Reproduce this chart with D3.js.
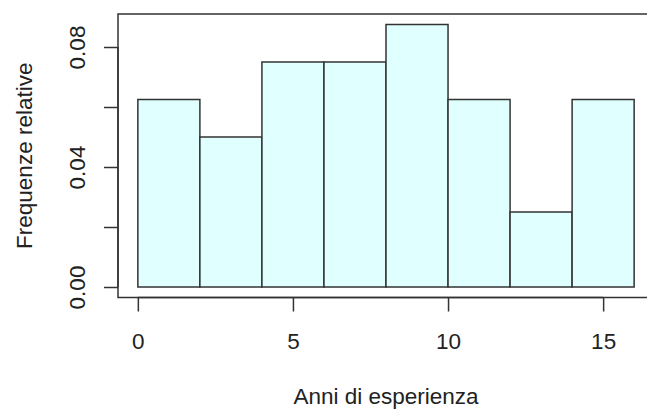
<!DOCTYPE html>
<html>
<head>
<meta charset="utf-8">
<script src="https://cdn.jsdelivr.net/npm/d3@7"></script>
<style>
  html, body { margin: 0; padding: 0; background: #fff; }
  svg { display: block; font-family: "Liberation Sans", Arial, Helvetica, sans-serif; }
</style>
</head>
<body>
<svg id="chart" width="647" height="410"></svg>
<script>
// Histogram bins (years of experience) and relative frequencies (density)
const binStarts = [0, 2, 4, 6, 8, 10, 12, 14];
const binWidth = 2;
const relFreq = [0.0625, 0.05, 0.075, 0.075, 0.0875, 0.0625, 0.025, 0.0625];

const xTicks = [0, 5, 10, 15];
const yTicks = [0, 0.02, 0.04, 0.06, 0.08];
const yTickLabels = ["0.00", "", "0.04", "", "0.08"];

const xTitle = "Anni di esperienza";
const yTitle = "Frequenze relative";

const svg = d3.select("#chart");
const fontSize = 22.5;
const ink = "#222";

// plot region extends 4% past the data range, like R's default axes
const xMin = 0, xMax = 16;
const yMax = d3.max(relFreq);
const xPad = (xMax - xMin) * 0.04;
const yPad = yMax * 0.04;

const plotLeft = 118, plotTop = 14, plotBottom = 297.5, plotRight = 654;

const x = d3.scaleLinear().domain([xMin - xPad, xMax + xPad]).range([plotLeft, plotRight]);
const y = d3.scaleLinear().domain([-yPad, yMax + yPad]).range([plotBottom, plotTop]);

// bars
svg.append("g")
  .selectAll("rect")
  .data(binStarts.map((s, i) => ({ x0: s, x1: s + binWidth, v: relFreq[i] })))
  .join("rect")
  .attr("x", d => x(d.x0))
  .attr("y", d => y(d.v))
  .attr("width", d => x(d.x1) - x(d.x0))
  .attr("height", d => y(0) - y(d.v))
  .attr("fill", "#e0ffff")
  .attr("stroke", "#333")
  .attr("stroke-width", 1.5);

// frame around the plot region
svg.append("rect")
  .attr("x", plotLeft).attr("y", plotTop)
  .attr("width", plotRight - plotLeft).attr("height", plotBottom - plotTop)
  .attr("fill", "none")
  .attr("stroke", "#333")
  .attr("stroke-width", 1.5);

// x axis
const xAxis = svg.append("g")
  .attr("transform", `translate(0,${plotBottom})`)
  .call(d3.axisBottom(x).tickValues(xTicks).tickSize(14).tickSizeOuter(0).tickPadding(22));
xAxis.select(".domain")
  .attr("d", `M${x(xTicks[0])},0H${x(xTicks[xTicks.length - 1])}`)
  .attr("stroke", "#333").attr("stroke-width", 1.5);
xAxis.selectAll(".tick line").attr("stroke", "#333").attr("stroke-width", 1.5);
xAxis.selectAll(".tick text")
  .attr("font-size", fontSize)
  .attr("font-family", "Liberation Sans, Arial, sans-serif")
  .attr("fill", ink);

// y axis with rotated labels
const yAxis = svg.append("g")
  .attr("transform", `translate(${plotLeft},0)`)
  .call(d3.axisLeft(y).tickValues(yTicks).tickSize(14).tickSizeOuter(0)
    .tickFormat((d, i) => yTickLabels[i]));
yAxis.select(".domain")
  .attr("d", `M0,${y(yTicks[0])}V${y(yTicks[yTicks.length - 1])}`)
  .attr("stroke", "#333").attr("stroke-width", 1.5);
yAxis.selectAll(".tick line").attr("stroke", "#333").attr("stroke-width", 1.5);
yAxis.selectAll(".tick text")
  .attr("font-size", fontSize)
  .attr("font-family", "Liberation Sans, Arial, sans-serif")
  .attr("fill", ink)
  .attr("x", null).attr("dy", null)
  .attr("text-anchor", "middle")
  .attr("transform", "translate(-33,0) rotate(-90)");

// axis titles
svg.append("text")
  .attr("x", (plotLeft + plotRight) / 2)
  .attr("y", 404)
  .attr("text-anchor", "middle")
  .attr("font-size", fontSize)
  .attr("fill", ink)
  .text(xTitle);

svg.append("text")
  .attr("transform", `translate(32,${(plotTop + plotBottom) / 2}) rotate(-90)`)
  .attr("text-anchor", "middle")
  .attr("font-size", fontSize)
  .attr("fill", ink)
  .text(yTitle);
</script>
</body>
</html>
